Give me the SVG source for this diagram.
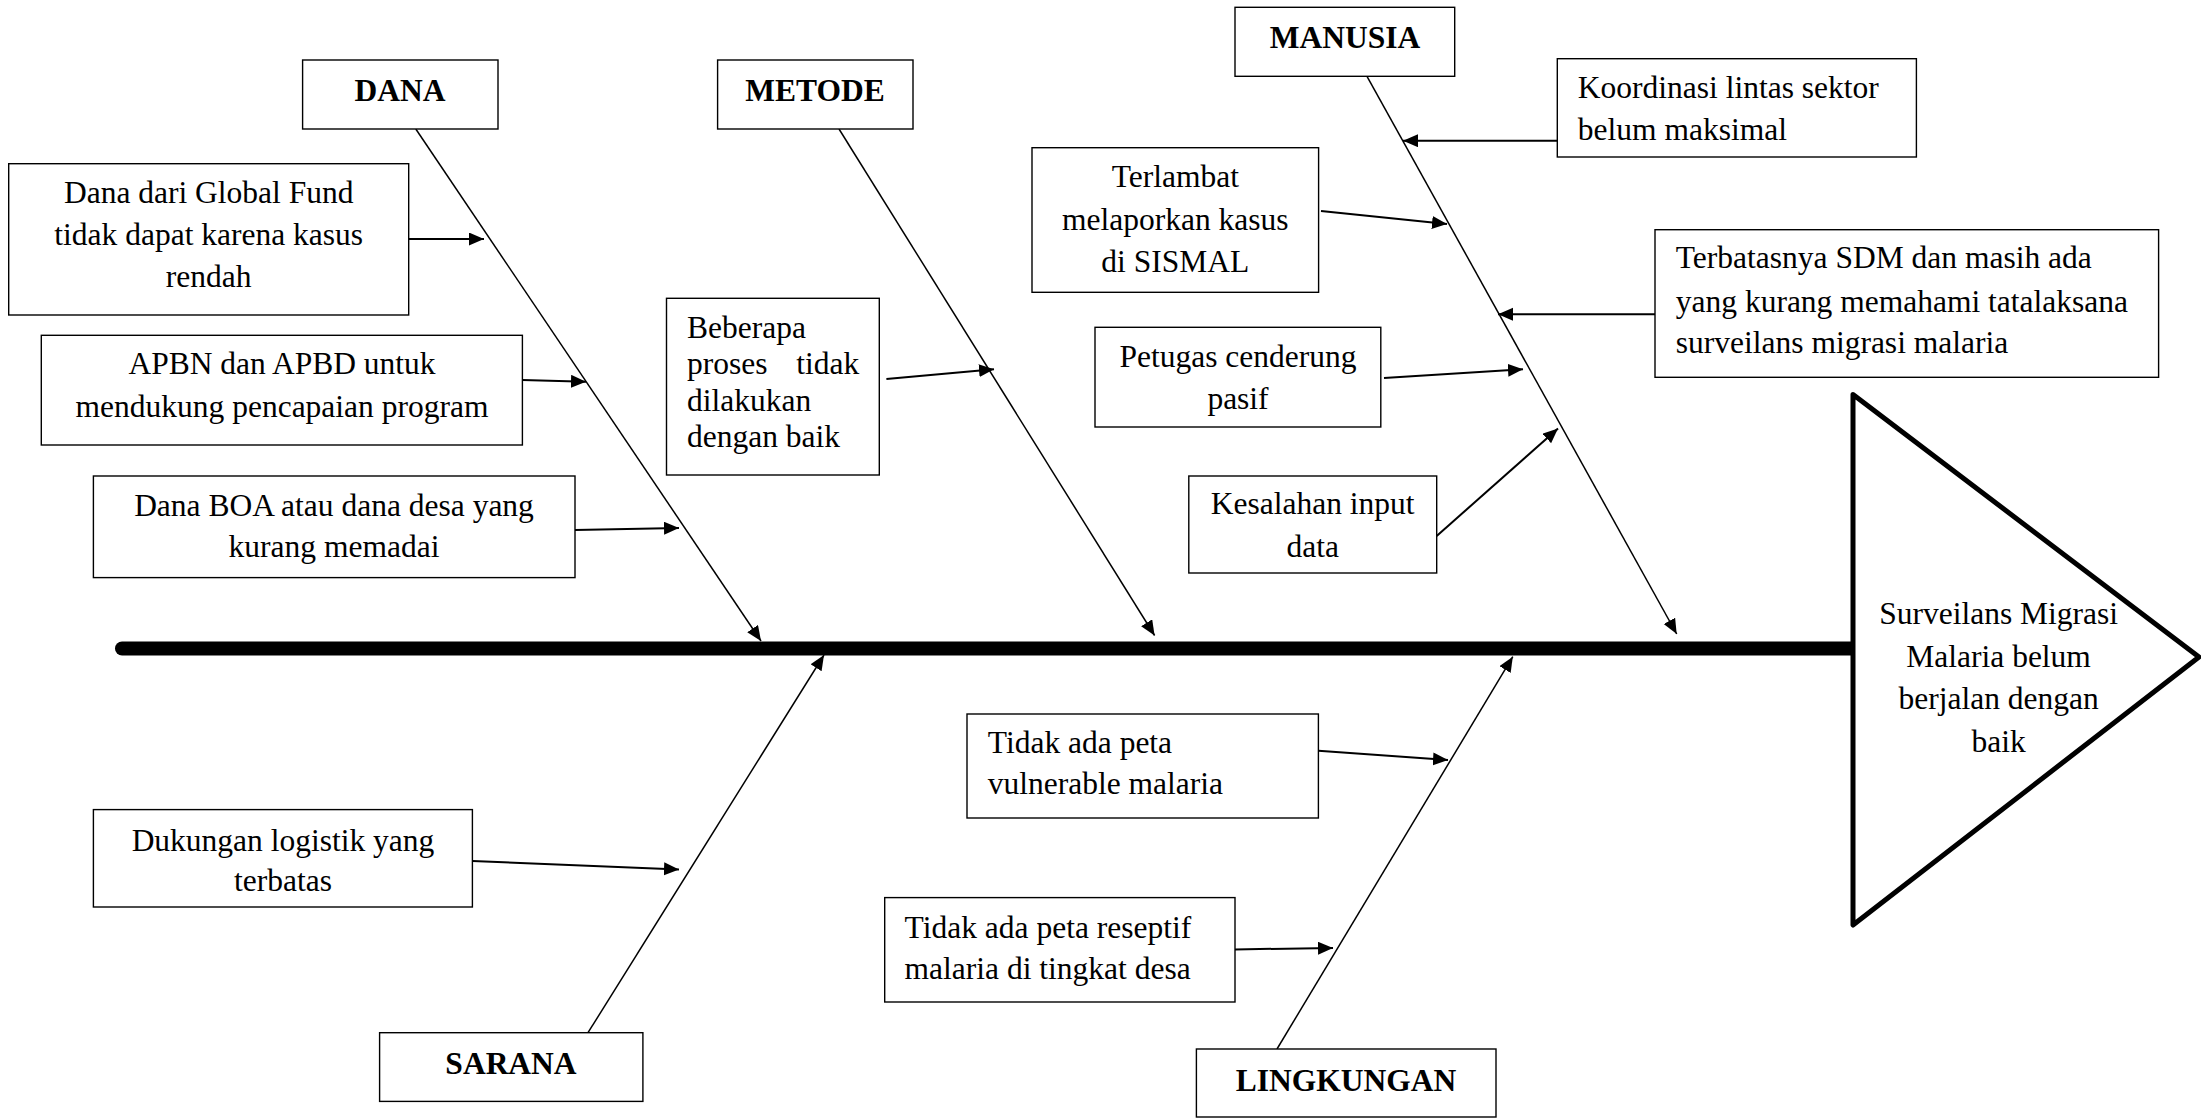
<svg xmlns="http://www.w3.org/2000/svg" width="2201" height="1118" viewBox="0 0 2201 1118">
<style>
  .box{fill:#fff;stroke:#000;stroke-width:1.4}
  .t{font-family:"Liberation Serif","Times New Roman",serif;font-size:31.5px;fill:#000}
  .c{text-anchor:middle}
  .b{font-weight:bold}
  .bone{stroke:#000;stroke-width:1.5;fill:none;marker-end:url(#ah)}
  .arr{stroke:#000;stroke-width:2;fill:none;marker-end:url(#ah)}
</style>
<defs>
  <marker id="ah" markerUnits="userSpaceOnUse" markerWidth="16" markerHeight="14" refX="15" refY="6.5" orient="auto">
    <path d="M0,0 L15,6.5 L0,13 Z" fill="#000"/>
  </marker>
</defs>
<rect width="2201" height="1118" fill="#fff"/>

<g id="connectors">
  <line x1="122" y1="648.5" x2="1853" y2="648.5" stroke="#000" stroke-width="14" stroke-linecap="round"/>
  <line class="bone" x1="415.8" y1="129" x2="761" y2="641"/>
  <line class="bone" x1="839" y1="129" x2="1154.6" y2="635.5"/>
  <line class="bone" x1="1367" y1="76.3" x2="1676.7" y2="634"/>
  <line class="bone" x1="588" y1="1032.7" x2="824" y2="655"/>
  <line class="bone" x1="1277" y1="1049" x2="1512.8" y2="656.7"/>
  <line class="arr" x1="408.7" y1="239" x2="484" y2="239"/>
  <line class="arr" x1="522.4" y1="380" x2="586" y2="381.7"/>
  <line class="arr" x1="575" y1="530" x2="679" y2="528"/>
  <line class="arr" x1="472.4" y1="861" x2="679" y2="869.4"/>
  <line class="arr" x1="886.4" y1="379" x2="994" y2="369.3"/>
  <line class="arr" x1="1321" y1="211" x2="1447" y2="224"/>
  <line class="arr" x1="1384" y1="378" x2="1523" y2="369.3"/>
  <line class="arr" x1="1436.7" y1="536" x2="1558" y2="428.5"/>
  <line class="arr" x1="1557.3" y1="140.7" x2="1403" y2="140.7"/>
  <line class="arr" x1="1655" y1="314.3" x2="1498" y2="314.3"/>
  <line class="arr" x1="1318.4" y1="750.8" x2="1448" y2="760"/>
  <line class="arr" x1="1235" y1="949.4" x2="1333" y2="948"/>
</g>

<g id="head">
  <polygon points="1853,394.6 2199,657 1853,925" fill="#fff" stroke="#000" stroke-width="5" stroke-linejoin="round"/>
  <text class="t c" x="1998.6" y="623.7">Surveilans Migrasi</text>
  <text class="t c" x="1998.6" y="667">Malaria belum</text>
  <text class="t c" x="1998.6" y="708.5">berjalan dengan</text>
  <text class="t c" x="1998.6" y="751.8">baik</text>
</g>

<g id="dana">
  <rect class="box" x="302.6" y="60" width="195.4" height="69"/>
  <text class="t c b" x="400" y="101">DANA</text>
</g>
<g id="metode">
  <rect class="box" x="717.6" y="60" width="195.4" height="69"/>
  <text class="t c b" x="815" y="101">METODE</text>
</g>
<g id="manusia">
  <rect class="box" x="1235" y="7.3" width="219.7" height="69"/>
  <text class="t c b" x="1345" y="48">MANUSIA</text>
</g>
<g id="sarana">
  <rect class="box" x="379.6" y="1032.7" width="263.3" height="68.7"/>
  <text class="t c b" x="511" y="1074">SARANA</text>
</g>
<g id="lingkungan">
  <rect class="box" x="1196.4" y="1049" width="299.6" height="68"/>
  <text class="t c b" x="1346" y="1090.6">LINGKUNGAN</text>
</g>

<g id="global-fund">
  <rect class="box" x="8.7" y="163.7" width="400" height="151.3"/>
  <text class="t c" x="208.7" y="202.7">Dana dari Global Fund</text>
  <text class="t c" x="208.7" y="245">tidak dapat karena kasus</text>
  <text class="t c" x="208.7" y="287.3">rendah</text>
</g>
<g id="apbn">
  <rect class="box" x="41.3" y="335.3" width="481.1" height="109.7"/>
  <text class="t c" x="282" y="374">APBN dan APBD untuk</text>
  <text class="t c" x="282" y="416.7">mendukung pencapaian program</text>
</g>
<g id="boa">
  <rect class="box" x="93.4" y="476" width="481.6" height="101.6"/>
  <text class="t c" x="334" y="515.5">Dana BOA atau dana desa yang</text>
  <text class="t c" x="334" y="556.5">kurang memadai</text>
</g>
<g id="dukungan">
  <rect class="box" x="93.4" y="809.6" width="379" height="97.4"/>
  <text class="t c" x="283" y="850.6">Dukungan logistik yang</text>
  <text class="t c" x="283" y="890.6">terbatas</text>
</g>
<g id="beberapa">
  <rect class="box" x="666.5" y="298.3" width="212.8" height="176.7"/>
  <text class="t" x="687" y="337.5">Beberapa</text>
  <text class="t" x="687" y="374" word-spacing="21">proses tidak</text>
  <text class="t" x="687" y="410.5">dilakukan</text>
  <text class="t" x="687" y="447">dengan baik</text>
</g>
<g id="terlambat">
  <rect class="box" x="1032" y="147.7" width="286.6" height="144.6"/>
  <text class="t c" x="1175.3" y="186.7">Terlambat</text>
  <text class="t c" x="1175.3" y="230">melaporkan kasus</text>
  <text class="t c" x="1175.3" y="271.7">di SISMAL</text>
</g>
<g id="petugas">
  <rect class="box" x="1095" y="327.3" width="285.8" height="99.7"/>
  <text class="t c" x="1238" y="366.7">Petugas cenderung</text>
  <text class="t c" x="1238" y="409">pasif</text>
</g>
<g id="kesalahan">
  <rect class="box" x="1188.8" y="476" width="247.9" height="97"/>
  <text class="t c" x="1312.7" y="514">Kesalahan input</text>
  <text class="t c" x="1312.7" y="556.5">data</text>
</g>
<g id="koordinasi">
  <rect class="box" x="1557.3" y="58.7" width="359.1" height="98.3"/>
  <text class="t" x="1577.8" y="97.7">Koordinasi lintas sektor</text>
  <text class="t" x="1577.8" y="140">belum maksimal</text>
</g>
<g id="terbatasnya">
  <rect class="box" x="1655" y="229.7" width="503.6" height="147.6"/>
  <text class="t" x="1675.8" y="268.3">Terbatasnya SDM dan masih ada</text>
  <text class="t" x="1675.8" y="311.7">yang kurang memahami tatalaksana</text>
  <text class="t" x="1675.8" y="353.3">surveilans migrasi malaria</text>
</g>
<g id="vulnerable">
  <rect class="box" x="967" y="714" width="351.4" height="104"/>
  <text class="t" x="987.8" y="753">Tidak ada peta</text>
  <text class="t" x="987.8" y="794">vulnerable malaria</text>
</g>
<g id="reseptif">
  <rect class="box" x="884.7" y="897.6" width="350.3" height="104.4"/>
  <text class="t" x="904.6" y="937.6">Tidak ada peta reseptif</text>
  <text class="t" x="904.6" y="978.6">malaria di tingkat desa</text>
</g>
</svg>
